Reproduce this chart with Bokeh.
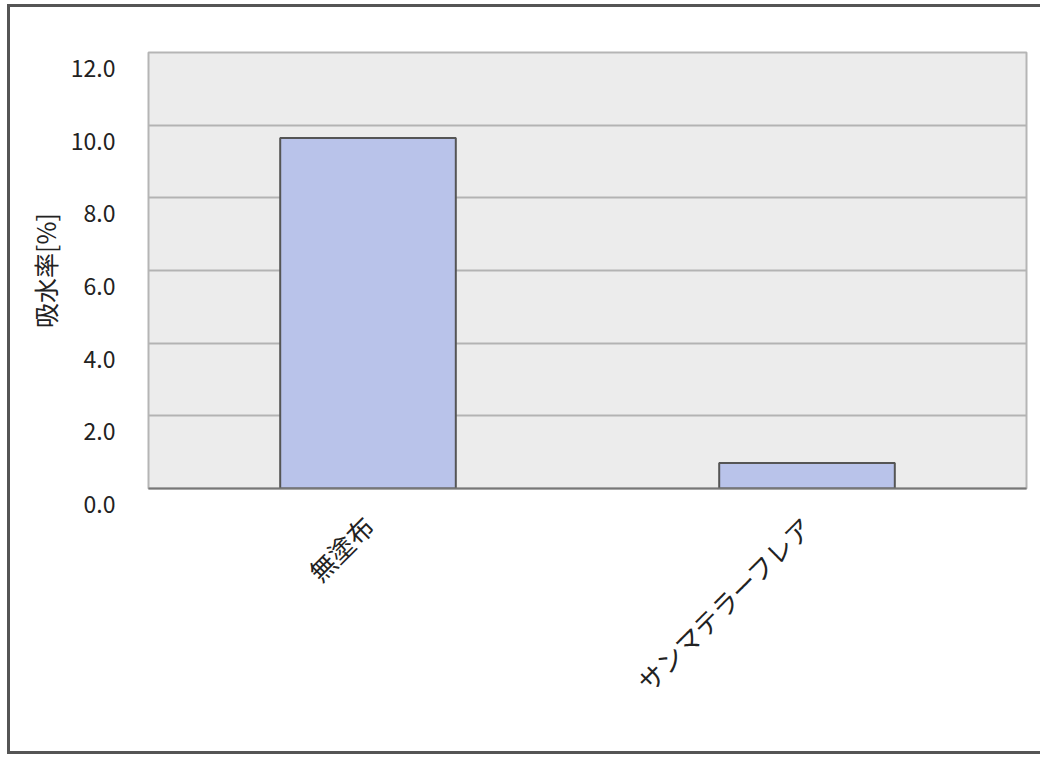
from bokeh.plotting import figure
from bokeh.embed import file_html
from bokeh.resources import INLINE
from bokeh.models import FixedTicker, ColumnDataSource
import math

categories = ["無塗布", "サンマテラーフレア"]
values = [9.65, 0.7]
y_ticks = [0, 2, 4, 6, 8, 10, 12]
y_tick_labels = ["0.0", "2.0", "4.0", "6.0", "8.0", "10.0", "12.0"]
y_label = "吸水率[%]"

src = ColumnDataSource(dict(cat=categories, val=values))

p = figure(x_range=categories, y_range=(0, 12), width=1033, height=750,
           output_backend="svg", toolbar_location=None,
           min_border_left=138, min_border_top=45, min_border_right=17, min_border_bottom=269)
p.styles = {"margin-left": "7px", "margin-top": "4px",
            "border-left": "3px solid #555", "border-top": "3px solid #555",
            "border-bottom": "3px solid #555"}

p.vbar(x="cat", top="val", width=0.4, source=src, fill_color="#b9c3ea",
       line_color="#555555", line_width=2)

p.background_fill_color = "#ececec"
p.border_fill_color = "white"
p.outline_line_color = "#b5b5b5"
p.outline_line_width = 2

p.xgrid.grid_line_color = None
p.ygrid.grid_line_color = "#b3b3b3"
p.ygrid.grid_line_width = 2

p.yaxis.ticker = FixedTicker(ticks=y_ticks)
# leading line break drops each label a little below its gridline, as in the scan
p.yaxis.major_label_overrides = {t: "\n" + s for t, s in zip(y_ticks, y_tick_labels)}
p.yaxis.axis_line_color = None
p.yaxis.major_tick_line_color = None
p.yaxis.minor_tick_line_color = None
p.yaxis.major_label_standoff = 27
p.yaxis.major_label_text_font = "Noto Sans CJK JP"
p.yaxis.major_label_text_font_size = "23px"
p.yaxis.major_label_text_line_height = 0.85
p.yaxis.major_label_text_color = "#222"
p.yaxis.axis_label = y_label
p.yaxis.axis_label_text_font = "Noto Sans CJK JP"
p.yaxis.axis_label_text_font_size = "25px"
p.yaxis.axis_label_text_font_style = "normal"
p.yaxis.axis_label_text_color = "#222"
p.yaxis.axis_label_standoff = 5

p.xaxis.axis_line_color = "#777"
p.xaxis.axis_line_width = 2
p.xaxis.major_tick_line_color = None
p.xaxis.minor_tick_line_color = None
p.xaxis.major_label_orientation = math.pi / 4
p.xaxis.major_label_standoff = 26
p.xaxis.major_label_text_font = "Noto Sans CJK JP"
p.xaxis.major_label_text_font_size = "26px"
p.xaxis.major_label_text_color = "#222"

open("out.html", "w").write(file_html(p, INLINE))
